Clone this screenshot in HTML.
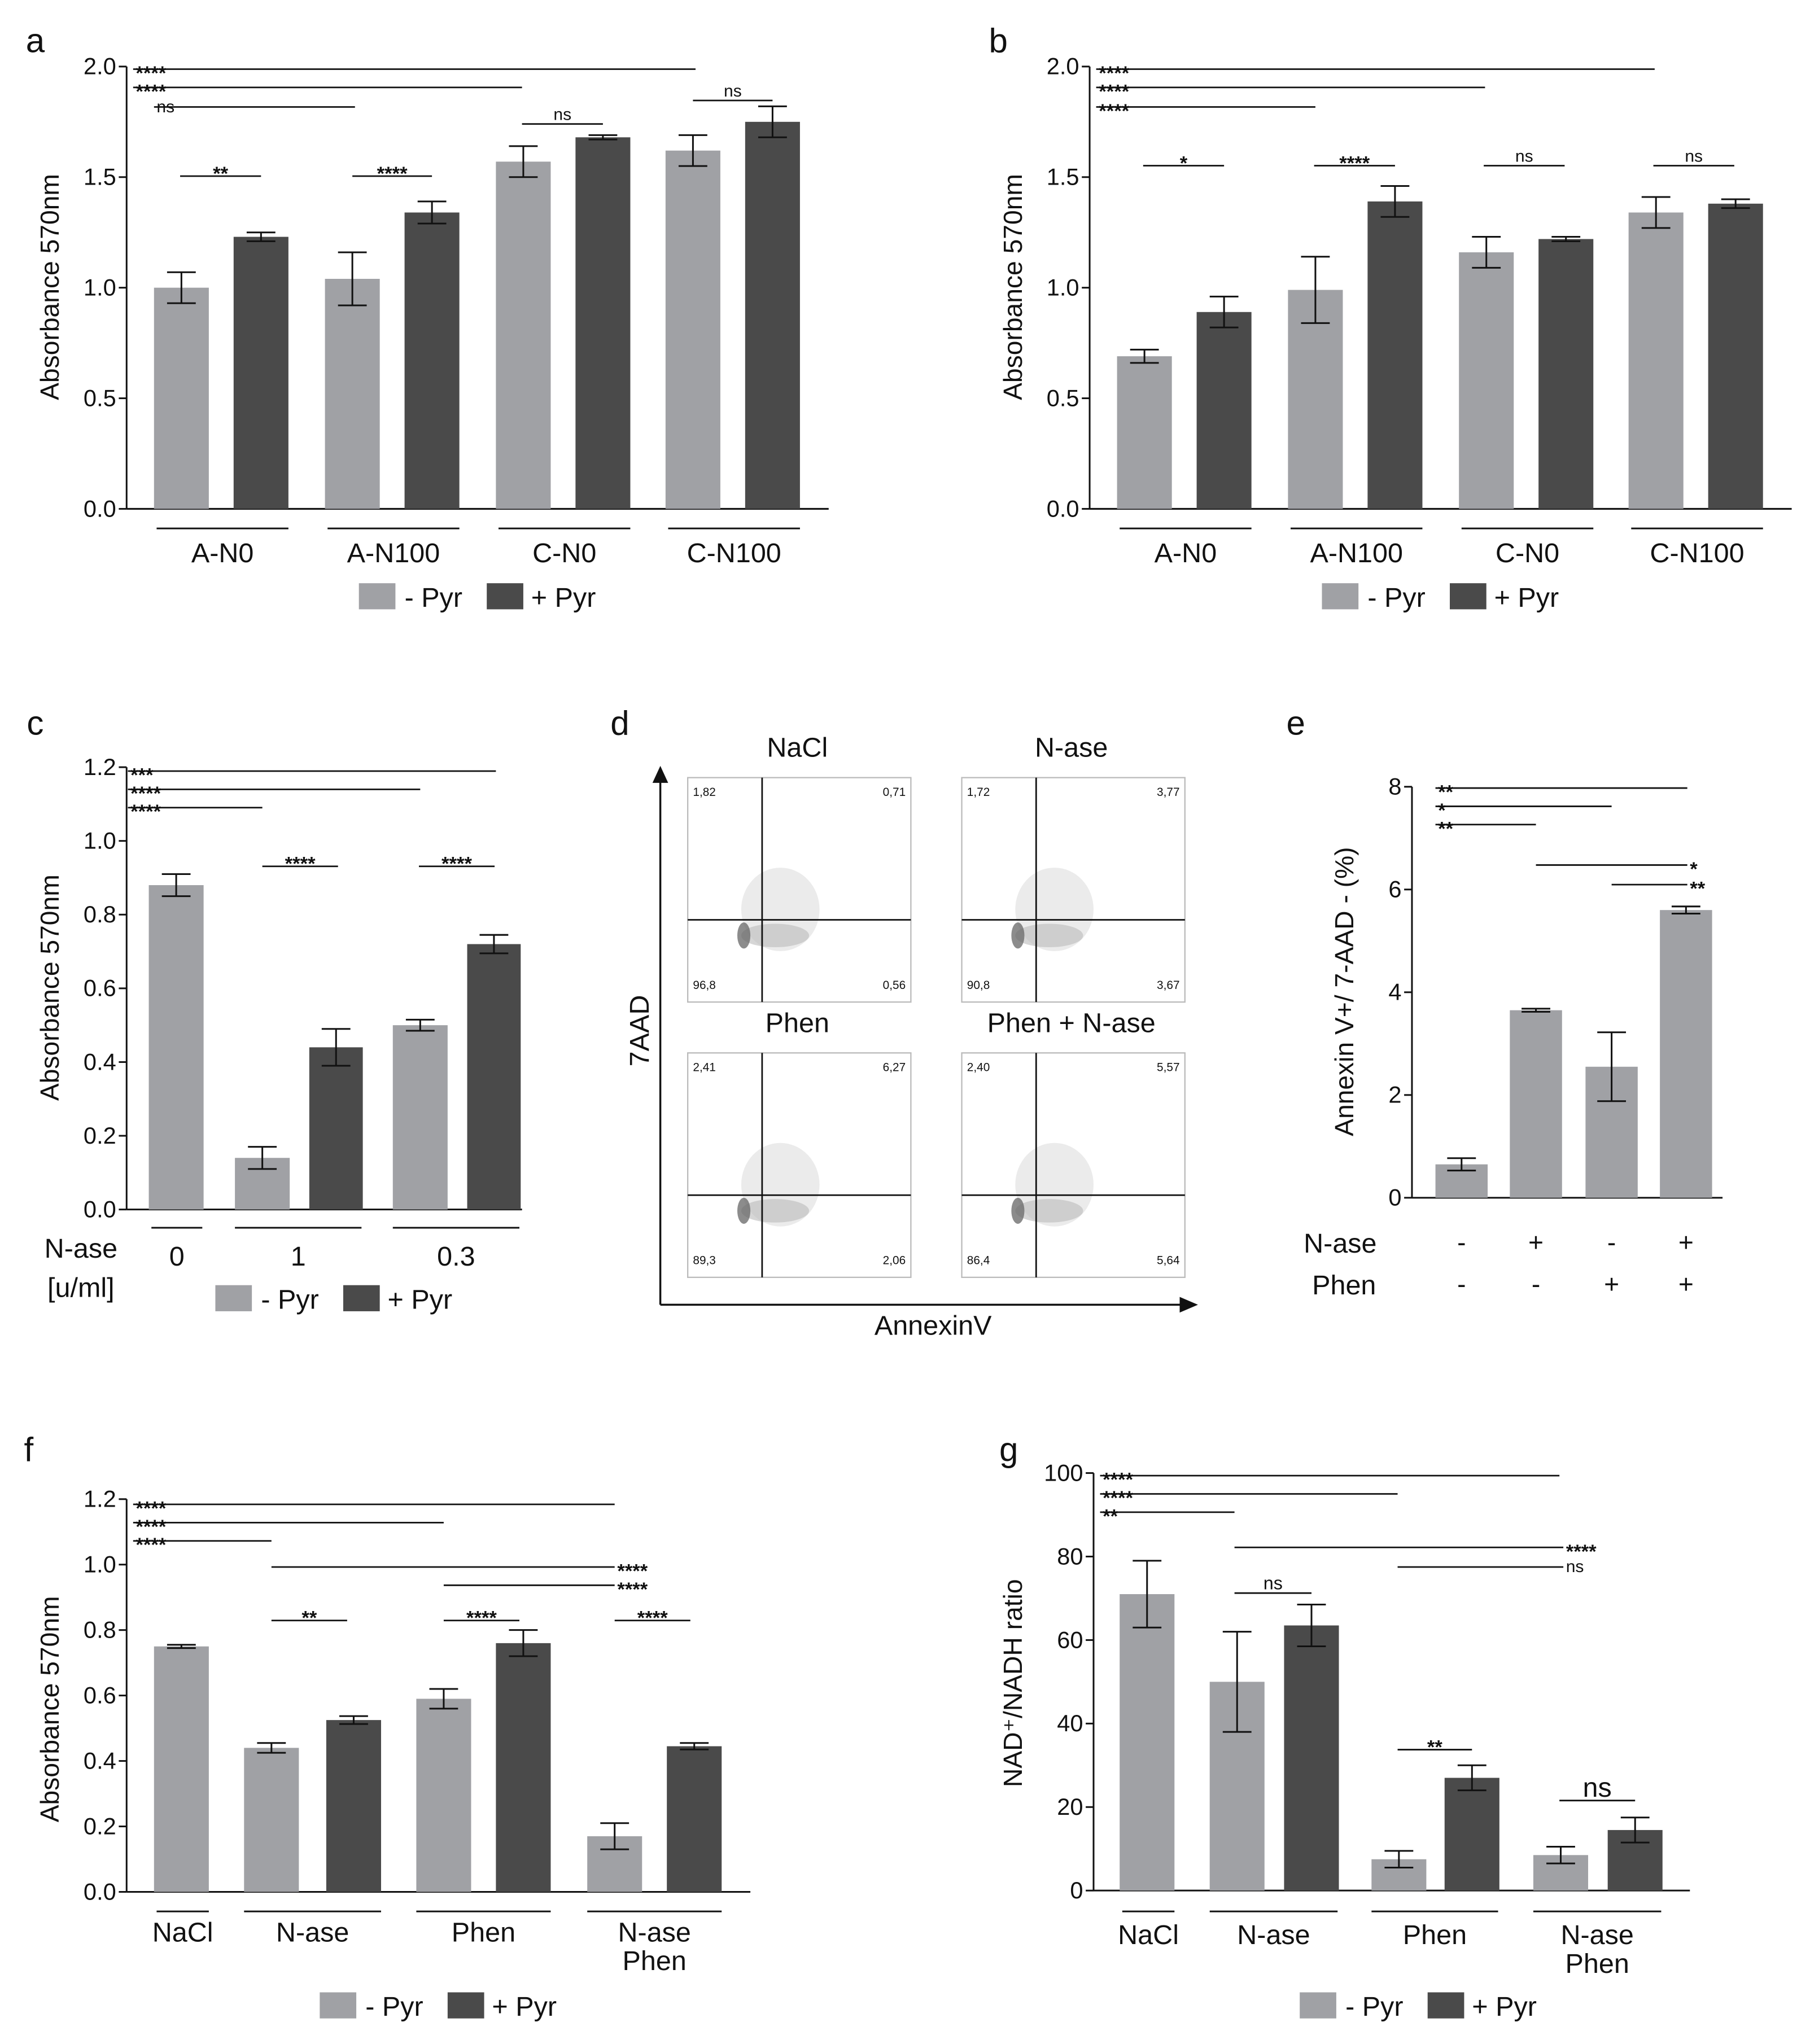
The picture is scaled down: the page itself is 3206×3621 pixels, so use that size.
<!DOCTYPE html>
<html><head><meta charset="utf-8"><style>body{margin:0;background:#fff}svg{display:block}text{font-family:"Liberation Sans",sans-serif;fill:#111}</style></head>
<body>
<svg id="fig" width="3206" height="3621" viewBox="0 0 1387 1566.6" xmlns="http://www.w3.org/2000/svg"></svg>
<script>
// ---------- data ----------
const aCats=["A-N0","A-N100","C-N0","C-N100"];
const aMinus=[1.0,1.04,1.57,1.62], aMinusErr=[0.07,0.12,0.07,0.07];
const aPlus=[1.23,1.34,1.68,1.75], aPlusErr=[0.02,0.05,0.01,0.07];
const bMinus=[0.69,0.99,1.16,1.34], bMinusErr=[0.03,0.15,0.07,0.07];
const bPlus=[0.89,1.39,1.22,1.38], bPlusErr=[0.07,0.07,0.01,0.02];
const cCats=["0","1","0.3"];
const cMinus=[0.88,0.14,0.50], cMinusErr=[0.03,0.03,0.015];
const cPlus=[null,0.44,0.72], cPlusErr=[null,0.05,0.025];
const eVals=[0.65,3.65,2.55,5.6], eErr=[0.12,0.03,0.67,0.07];
const eNase=["-","+","-","+"], ePhen=["-","-","+","+"];
const fgCats=["NaCl","N-ase","Phen","N-ase\nPhen"];
const fMinus=[0.75,0.44,0.59,0.17], fMinusErr=[0.005,0.015,0.03,0.04];
const fPlus=[null,0.525,0.76,0.445], fPlusErr=[null,0.012,0.04,0.01];
const gMinus=[71,50,7.5,8.5], gMinusErr=[8,12,2,2];
const gPlus=[null,63.5,27,14.5], gPlusErr=[null,5,3,3];
const flowTitles=["NaCl","N-ase","Phen","Phen + N-ase"];
const flowNums=[["1,82","0,71","96,8","0,56"],["1,72","3,77","90,8","3,67"],["2,41","6,27","89,3","2,06"],["2,40","5,57","86,4","5,64"]];

const NS="http://www.w3.org/2000/svg";
const svg=document.getElementById('fig');
const LIGHT="#a0a1a5", DARK="#4a4a4a";
function mk(tag,attrs,parent){const e=document.createElementNS(NS,tag);for(const k in attrs)e.setAttribute(k,attrs[k]);(parent||svg).appendChild(e);return e;}
function line(x1,y1,x2,y2,w,p){return mk('line',{x1,y1,x2,y2,stroke:'#111','stroke-width':w||1.3},p);}
function txt(s,x,y,size,anchor,p,extra){const t=mk('text',Object.assign({x,y,'font-size':size,'text-anchor':anchor||'middle'},extra||{}),p);t.textContent=s;return t;}

function panel(o){
  const g=mk('g',{});
  
  
  const y=v=>o.y0-(v-o.ymin)/(o.ymax-o.ymin)*(o.y0-o.ytop);
  const ax=mk('g',{},g);
  
  
  line(o.ax,o.y0,o.ax,o.ytop,1.3,ax);
  for(const t of o.ticks){const yy=y(t);line(o.ax-6,yy,o.ax,yy,1.3,ax);txt(o.fmt(t),o.ax-8,yy+6,18,'end',ax);}
  const xa=line(o.ax,o.y0,o.xend,o.y0,1.3,g);
  
  
  const yl=txt(o.ylabel,o.ylx,o.yly,20,'middle',g,{transform:`rotate(-90 ${o.ylx} ${o.yly})`});
  
  
  o.bars.forEach(b=>{
    if(b.v==null)return;
    const r=mk('rect',{x:b.x,y:y(b.v),width:b.w,height:o.y0-y(b.v),fill:b.c},g);
    
    
    const cx=b.x+b.w/2,y1=y(b.v+b.e),y2=y(b.v-b.e);
    line(cx,y1,cx,y2,1.3,g);line(cx-11,y1,cx+11,y1,1.3,g);line(cx-11,y2,cx+11,y2,1.3,g);
  });
  (o.sig||[]).forEach(s=>{
    line(s.x1,s.y,s.x2,s.y,1.2,g);
    const star=s.t.includes('*');
    const sz=s.size||(star?15:13);
    const ex=star?{'font-weight':'bold'}:{};
    if(s.pos==='right')txt(s.t,s.x2+2,s.y+(star?8:4),sz,'start',g,ex);
    else if(s.pos==='left')txt(s.t,s.x1+2,s.y+(star?8:4),sz,'start',g,ex);
    else txt(s.t,(s.x1+s.x2)/2,s.y-3+(star?6:0),sz,'middle',g,ex);
  });
  return g;
}
function legend(x1,x2,y){
  const g=mk('g',{});
  
  
  mk('rect',{x:x1,y:y-10,width:28,height:20,fill:LIGHT},g);
  txt('- Pyr',x1+35,y+8,21,'start',g);
  mk('rect',{x:x2,y:y-10,width:28,height:20,fill:DARK},g);
  txt('+ Pyr',x2+34,y+8,21,'start',g);
}
function groupLabels(groups,ly,ty,p){
  groups.forEach(gr=>{
    line(gr.x1,ly,gr.x2,ly,1.3,p);
    const parts=gr.t.split('\n');
    parts.forEach((s,i)=>{const t=txt(s,(gr.x1+gr.x2)/2,ty+i*22,21,'middle',p);
      
      });
  });
}
function letter(s,x,y){const t=txt(s,x,y,26,'middle');}

// ---------- panel a & b ----------
function abPanel(id,dx,minus,mErr,plus,pErr,sig){
  const xs=[118,249,380,510];
  const bars=[];
  xs.forEach((x,i)=>{bars.push({x:x+dx,w:42,v:minus[i],e:mErr[i],c:LIGHT,name:aCats[i]+'-minus'});
    bars.push({x:x+61+dx,w:42,v:plus[i],e:pErr[i],c:DARK,name:aCats[i]+'-plus'});});
  const p=panel({id,ax:97+dx,y0:390,ytop:51,ymin:0,ymax:2,ticks:[0,0.5,1,1.5,2],fmt:v=>v.toFixed(1),xend:635+dx,
    ylabel:'Absorbance 570nm',ylx:45+dx,yly:220,bars,sig});
  groupLabels(xs.map((x,i)=>({x1:x+2+dx,x2:x+103+dx,t:aCats[i]})),405,431,p);
  legend(275+dx,373+dx,457);
}
abPanel('a',0,aMinus,aMinusErr,aPlus,aPlusErr,[
 {x1:102,x2:533,y:53,t:'****',pos:'left'},{x1:102,x2:400,y:67,t:'****',pos:'left'},{x1:118,x2:272,y:82,t:'ns',pos:'left'},
 {x1:138,x2:200,y:135,t:'**'},{x1:270,x2:331,y:135,t:'****'},{x1:400,x2:462,y:95,t:'ns'},{x1:531,x2:592,y:77,t:'ns'}]);
abPanel('b',738,bMinus,bMinusErr,bPlus,bPlusErr,[
 {x1:840,x2:1268,y:53,t:'****',pos:'left'},{x1:840,x2:1138,y:67,t:'****',pos:'left'},{x1:840,x2:1008,y:82,t:'****',pos:'left'},
 {x1:876,x2:938,y:127,t:'*'},{x1:1007,x2:1069,y:127,t:'****'},{x1:1137,x2:1199,y:127,t:'ns'},{x1:1267,x2:1329,y:127,t:'ns'}]);
letter('a',27,40);letter('b',765,40);

// ---------- panel c ----------
(function(){
  const xs=[114,180,301];
  const bars=[];
  xs.forEach((x,i)=>{bars.push({x,w:42,v:cMinus[i],e:cMinusErr[i],c:LIGHT,name:'c-'+cCats[i]+'-minus'});
    bars.push({x:x+57,w:41,v:cPlus[i],e:cPlusErr[i],c:DARK,name:'c-'+cCats[i]+'-plus'});});
  const p=panel({id:'c',ax:97,y0:927,ytop:588,ymin:0,ymax:1.2,ticks:[0,0.2,0.4,0.6,0.8,1.0,1.2],fmt:v=>v.toFixed(1),xend:400,
    ylabel:'Absorbance 570nm',ylx:45,yly:757,bars,sig:[
    {x1:98,x2:380,y:591,t:'***',pos:'left'},{x1:98,x2:322,y:605,t:'****',pos:'left'},{x1:98,x2:201,y:619,t:'****',pos:'left'},
    {x1:201,x2:259,y:664,t:'****'},{x1:321,x2:379,y:664,t:'****'}]});
  groupLabels([{x1:116,x2:155,t:cCats[0]},{x1:180,x2:277,t:cCats[1]},{x1:301,x2:398,t:cCats[2]}],941,970,p);
  txt('N-ase',62,964,21,'middle',p);txt('[u/ml]',62,994,21,'middle',p);
  legend(165,263,995);
})();
letter('c',27,563);

// ---------- panel d (flow) ----------
(function(){
  const g=mk('g',{});
  
  
  line(506,1000,506,598,1.5,g);mk('polygon',{points:'500,600 512,600 506,587',fill:'#111'},g);
  line(506,1000,906,1000,1.5,g);mk('polygon',{points:'904,994 904,1006 918,1000',fill:'#111'},g);
  txt('7AAD',497,790,21,'middle',g,{transform:'rotate(-90 497 790)'});
  txt('AnnexinV',715,1023,21,'middle',g);
  const boxes=[[527,596],[737,596],[527,807],[737,807]];
  boxes.forEach((b,i)=>{
    const [x,y]=b;
    const pg=mk('g',{},g);
    
    
    mk('rect',{x,y,width:171,height:172,fill:'none',stroke:'#bbb','stroke-width':1},pg);
    const qx=x+57,qy=y+109;
    mk('ellipse',{cx:qx+14,cy:qy-8,rx:30,ry:32,fill:'#ddd',opacity:0.6},pg);
    mk('ellipse',{cx:qx+10,cy:qy+12,rx:26,ry:9,fill:'#bbb',opacity:0.6},pg);
    mk('ellipse',{cx:qx-14,cy:qy+12,rx:5,ry:10,fill:'#666',opacity:0.75},pg);
    line(qx,y,qx,y+172,1.2,pg);line(x,qy,x+171,qy,1.2,pg);
    const n=flowNums[i];
    txt(n[0],x+4,y+14,9,'start',pg);txt(n[1],x+167,y+14,9,'end',pg);
    txt(n[2],x+4,y+162,9,'start',pg);txt(n[3],x+167,y+162,9,'end',pg);
    txt(flowTitles[i],x+84,y-16,21,'middle',pg);
  });
})();
letter('d',475,563);

// ---------- panel e ----------
(function(){
  const xs=[1100,1157,1215,1272];
  const bars=xs.map((x,i)=>({x,w:40,v:eVals[i],e:eErr[i],c:LIGHT,name:'e-'+i}));
  const p=panel({id:'e',ax:1082,y0:918,ytop:603,ymin:0,ymax:8,ticks:[0,2,4,6,8],fmt:v=>String(v),xend:1320,
    ylabel:'Annexin V+/ 7-AAD - (%)',ylx:1037,yly:760,bars,sig:[
    {x1:1100,x2:1293,y:604,t:'**',pos:'left'},{x1:1100,x2:1235,y:618,t:'*',pos:'left'},{x1:1100,x2:1177,y:632,t:'**',pos:'left'},
    {x1:1177,x2:1293,y:663,t:'*',pos:'right'},{x1:1235,x2:1293,y:678,t:'**',pos:'right'}]});
  txt('N-ase',1027,960,21,'middle',p);txt('Phen',1030,992,21,'middle',p);
  xs.forEach((x,i)=>{txt(eNase[i],x+20,959,20,'middle',p);txt(ePhen[i],x+20,991,20,'middle',p);});
})();
letter('e',993,563);

// ---------- panel f ----------
(function(){
  const ml=[118,187,319,450], pl=[null,250,380,511];
  const bars=[];
  ml.forEach((x,i)=>{bars.push({x,w:42,v:fMinus[i],e:fMinusErr[i],c:LIGHT,name:'f-'+i+'-minus'});
    if(pl[i]!=null)bars.push({x:pl[i],w:42,v:fPlus[i],e:fPlusErr[i],c:DARK,name:'f-'+i+'-plus'});});
  const p=panel({id:'f',ax:97,y0:1450,ytop:1149,ymin:0,ymax:1.2,ticks:[0,0.2,0.4,0.6,0.8,1.0,1.2],fmt:v=>v.toFixed(1),xend:575,
    ylabel:'Absorbance 570nm',ylx:45,yly:1310,bars,sig:[
    {x1:102,x2:471,y:1153,t:'****',pos:'left'},{x1:102,x2:340,y:1167,t:'****',pos:'left'},{x1:102,x2:208,y:1181,t:'****',pos:'left'},
    {x1:208,x2:471,y:1201,t:'****',pos:'right'},{x1:340,x2:471,y:1215,t:'****',pos:'right'},
    {x1:208,x2:266,y:1242,t:'**'},{x1:340,x2:398,y:1242,t:'****'},{x1:471,x2:529,y:1242,t:'****'}]});
  groupLabels([{x1:120,x2:160,t:fgCats[0]},{x1:187,x2:292,t:fgCats[1]},{x1:319,x2:422,t:fgCats[2]},{x1:450,x2:553,t:fgCats[3]}],1465,1488,p);
  legend(245,343,1537);
})();
letter('f',22,1120);

// ---------- panel g ----------
(function(){
  const ml=[858,927,1051,1175], pl=[null,984,1107,1232];
  const bars=[];
  ml.forEach((x,i)=>{bars.push({x,w:42,v:gMinus[i],e:gMinusErr[i],c:LIGHT,name:'g-'+i+'-minus'});
    if(pl[i]!=null)bars.push({x:pl[i],w:42,v:gPlus[i],e:gPlusErr[i],c:DARK,name:'g-'+i+'-plus'});});
  const p=panel({id:'g',ax:838,y0:1449,ytop:1129,ymin:0,ymax:100,ticks:[0,20,40,60,80,100],fmt:v=>String(v),xend:1295,
    ylabel:'NAD⁺/NADH ratio',ylx:783,yly:1290,bars,sig:[
    {x1:843,x2:1195,y:1131,t:'****',pos:'left'},{x1:843,x2:1071,y:1145,t:'****',pos:'left'},{x1:843,x2:946,y:1159,t:'**',pos:'left'},
    {x1:946,x2:1198,y:1186,t:'****',pos:'right'},{x1:1071,x2:1198,y:1201,t:'ns',pos:'right'},
    {x1:946,x2:1005,y:1221,t:'ns',size:14},{x1:1071,x2:1128,y:1341,t:'**'},{x1:1195,x2:1253,y:1380,t:'ns',size:21}]});
  groupLabels([{x1:860,x2:900,t:fgCats[0]},{x1:927,x2:1025,t:fgCats[1]},{x1:1051,x2:1148,t:fgCats[2]},{x1:1175,x2:1273,t:fgCats[3]}],1465,1490,p);
  legend(996,1094,1537);
})();
letter('g',773,1120);
</script>
</body></html>
